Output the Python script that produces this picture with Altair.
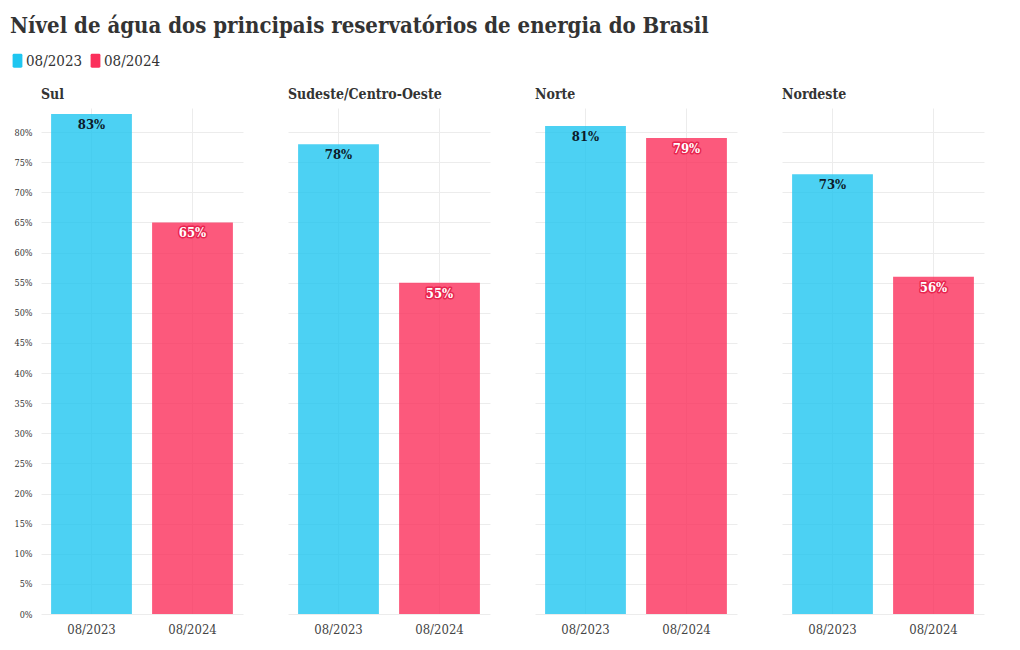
import altair as alt
import pandas as pd

regions = ["Sul", "Sudeste/Centro-Oeste", "Norte", "Nordeste"]
periods = ["08/2023", "08/2024"]
v2023 = [83, 78, 81, 73]
v2024 = [65, 55, 79, 56]
bar_colors = ["#1fc6f0", "#fb2f5b"]
label_colors = ["#0d1b2a", "#ffffff"]
halo_colors = ["#4cd1f3", "#e8254f"]
y_ticks = list(range(0, 85, 5))

rows = []
for r, a, b in zip(regions, v2023, v2024):
    rows.append({"regiao": r, "periodo": periods[0], "valor": a, "label": f"{a}%"})
    rows.append({"regiao": r, "periodo": periods[1], "valor": b, "label": f"{b}%"})
df = pd.DataFrame(rows)

FONT = "DejaVu Serif Condensed, DejaVu Serif"
ROUND_RECT = ("M-0.5,-1 L0.5,-1 Q0.7,-1 0.7,-0.8 L0.7,0.8 Q0.7,1 0.5,1 "
              "L-0.5,1 Q-0.7,1 -0.7,0.8 L-0.7,-0.8 Q-0.7,-1 -0.5,-1 Z")

x = alt.X("periodo:N", title=None, sort=periods,
          scale=alt.Scale(paddingInner=0.2, paddingOuter=0.1),
          axis=alt.Axis(labelAngle=0, labelFontSize=13, labelColor="#444", labelFont=FONT,
                        ticks=False, domain=False, grid=True, gridColor="#ececec",
                        labelPadding=9))
y = alt.Y("valor:Q", title=None,
          scale=alt.Scale(domain=[0, 84], nice=False),
          axis=alt.Axis(values=y_ticks, labelExpr="datum.value + '%'", labelFontSize=9,
                        labelColor="#333", labelFont=FONT, ticks=False, domain=False,
                        gridColor="#ececec", labelPadding=9))

bars = alt.Chart().mark_bar(opacity=0.8).encode(
    x=x, y=y,
    color=alt.Color("periodo:N", sort=periods,
                    scale=alt.Scale(domain=periods, range=bar_colors),
                    legend=alt.Legend(title=None, orient="none", legendX=-31, legendY=-55,
                                      direction="horizontal",
                                      symbolType=ROUND_RECT, symbolSize=196, symbolOpacity=1,
                                      symbolStrokeWidth=0, labelFontSize=15, labelFont=FONT,
                                      labelColor="#333", columnPadding=5, labelOffset=1)),
)

layers = [bars]
for i, p in enumerate(periods):
    layers.append(alt.Chart().transform_filter(alt.datum.periodo == p).mark_text(
        baseline="alphabetic", dy=15, fontSize=13, font=FONT, fontWeight="bold",
        strokeWidth=3, strokeJoin="round", stroke=halo_colors[i], fill=halo_colors[i],
    ).encode(x=x, y=y, text="label:N"))
    layers.append(alt.Chart().transform_filter(alt.datum.periodo == p).mark_text(
        baseline="alphabetic", dy=15, fontSize=13, font=FONT, fontWeight="bold",
        fill=label_colors[i],
    ).encode(x=x, y=y, text="label:N"))

chart = alt.layer(*layers, data=df).properties(width=202, height=506).facet(
    column=alt.Column("regiao:N", sort=regions, title=None,
                      header=alt.Header(labelOrient="top", labelAnchor="start",
                                        labelFontSize=14, labelFontWeight="bold",
                                        labelFont=FONT, labelColor="#333", labelPadding=6)),
    spacing=45,
).properties(
    title=alt.TitleParams("Nível de água dos principais reservatórios de energia do Brasil",
                          anchor="start", frame="bounds", font=FONT, fontSize=22,
                          fontWeight="bold", color="#333", offset=15),
    padding={"left": 10, "top": 15, "right": 10, "bottom": 10},
).configure_view(stroke=None)

chart.save("out.html", embed_options={"renderer": "svg", "actions": False})
